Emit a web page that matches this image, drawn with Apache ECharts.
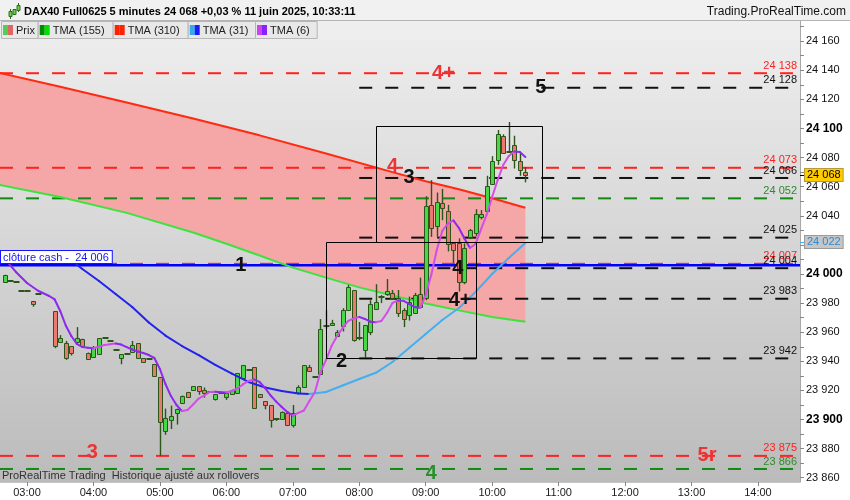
<!DOCTYPE html>
<html><head><meta charset="utf-8">
<script src="https://cdn.jsdelivr.net/npm/echarts@6.0.0/dist/echarts.min.js"></script>
<style>html,body{margin:0;padding:0;background:#fff}#c{width:850px;height:500px}</style>
</head><body><div id="c"></div><script>
// ---------- DATA ----------
const candleTimes = ['02:40','02:45','02:50','02:55','03:00','03:05','03:10','03:25','03:30','03:35','03:40','03:45','03:50','03:55','04:00','04:05','04:10','04:15','04:20','04:25','04:30','04:35','04:40','04:45','04:50','04:55','05:00','05:05','05:10','05:15','05:20','05:25','05:30','05:35','05:40','05:45','05:50','05:55','06:00','06:05','06:10','06:15','06:20','06:25','06:30','06:35','06:40','06:45','06:50','06:55','07:00','07:05','07:10','07:15','07:20','07:25','07:30','07:35','07:40','07:45','07:50','07:55','08:00','08:05','08:10','08:15','08:20','08:25','08:30','08:35','08:40','08:45','08:50','08:55','09:00','09:05','09:10','09:15','09:20','09:25','09:30','09:35','09:40','09:45','09:50','09:55','10:00','10:05','10:10','10:15','10:20','10:25','10:30'];
const candleOpen = [23994.5,23995.5,23994.5,23988.5,23988,23981.5,23986.5,23974.5,23953.5,23952.5,23950.5,23953,23955.5,23946,23943,23945,23956,23954,23947.5,23942,23945,23946.5,23952.5,23942,23941.5,23938,23929,23892,23899.5,23904.5,23911.5,23919,23920,23923,23920.5,23919,23914,23918.5,23915.5,23917.5,23918,23928.5,23934,23936,23917.5,23912.5,23910,23900.5,23900.5,23904.5,23896.5,23918,23922.5,23936,23929,23931,23964.5,23965,23957.5,23964,23975.5,23989,23956,23948,23960,23976.5,23984.5,23986,23987,23983.5,23975.5,23972,23973,23986.5,23983.5,24047.5,24033,24048.5,24043.5,24021,24021,23994.5,24025,24028,24039,24043,24062,24078,24095,24084,24088.5,24077.5,24070];
const candleClose = [23999.5,23995.5,23994.5,23988.5,23988,23979.5,23986.5,23950.5,23956,23942.5,23945.5,23956,23950.5,23942,23949,23956,23956,23954,23947.5,23945,23945,23951,23942,23939.5,23941.5,23929.5,23898,23901,23902.5,23907.5,23916,23915.5,23923,23919.5,23918.5,23919,23917.5,23918.5,23918.5,23920.5,23932,23937.5,23934,23907.5,23915.5,23910,23900,23900.5,23905.5,23896.5,23904.5,23922,23937.5,23933.5,23929,23962,23964.5,23966.5,23960,23975,23991,23954.5,23956,23965,23979.5,23981,23984.5,23988,23983.5,23973,23969,23981,23985.5,23977.5,24046.5,24031.5,24049.5,24045,24021,24016.5,23994.5,24018,24030,24041,24041,24060.5,24078,24096,24083.5,24084,24078,24071,24068];
const candleHigh = [23999.5,23995.5,23994.5,23988.5,23988,23981.5,23986.5,23974.5,23958,23954,23950.5,23963.5,23955.5,23946,23950.5,23956,23956,23954,23947.5,23945,23945,23954,23952.5,23942,23941.5,23938,23929,23907.5,23909.5,23907.5,23916.5,23919,23923,23923,23922,23919,23917.5,23918.5,23918.5,23920.5,23932,23937.5,23934,23936,23917.5,23912.5,23910,23900.5,23905.5,23904.5,23910,23923.5,23937.5,23937.5,23929,23969,23975,23968.5,23961.5,23976.5,23992.5,23989,23967,23965,23982,23993,23985.5,23996.5,23989,23989,23976.5,23984.5,23987,23997.5,24053.5,24064.5,24056,24058.5,24047.5,24021.5,24024.5,24021,24031,24044.5,24044,24067.5,24081,24099,24096,24104.5,24095,24083.5,24073.5];
const candleLow = [23994.5,23995.5,23994.5,23988.5,23988,23977.5,23986.5,23949,23953.5,23941,23944,23953,23950.5,23941,23943,23945,23956,23954,23947.5,23938,23945,23946.5,23942,23939.5,23941.5,23929.5,23875,23889.5,23893.5,23896.5,23911.5,23915.5,23920,23917,23915,23919,23913,23918.5,23913.5,23917.5,23918,23928.5,23934,23907.5,23915.5,23907,23894.5,23899,23900.5,23895.5,23894.5,23918,23922.5,23933.5,23929,23931,23962.5,23965,23957.5,23960.5,23975.5,23953.5,23954.5,23942,23958,23976,23980,23985,23983,23970.5,23963.5,23968,23972.5,23976.5,23982,24025.5,24025.5,24037,24015.5,24007.5,23988,23993,24024,24026,24037.5,24043,24062,24075,24083.5,24083.5,24072.5,24067.5,24063];

const tma310Times = ['02:35','03:30','04:30','05:30','06:30','07:30','08:30','09:00','09:30','10:00','10:30'];
const tma310Values = [24138.3,24128.7,24117.9,24106.9,24095.3,24082.8,24070.0,24063.7,24058.2,24052.1,24045.5];
const tma155Times = ['02:35','03:30','04:30','05:30','06:00','06:30','07:00','07:30','08:00','08:30','09:00','09:30','10:00','10:30'];
const tma155Values = [24061.2,24052.9,24042.0,24028.5,24020.8,24012.7,24004.4,23997.5,23990.8,23985.2,23979.7,23975.0,23970.4,23967.2];
const tma31Times = ['03:35','03:50','04:05','04:20','04:35','04:50','05:05','05:20','05:35','05:50','06:05','06:20','06:35','06:50','07:05','07:15','07:30','07:45','08:00','08:15','08:30','08:45','09:00','09:15','09:30','09:45','10:00','10:15','10:30'];
const tma31Values = [24012.4,24003.4,23995.2,23986.3,23977.3,23966.7,23957.7,23950.5,23944.3,23937.5,23931.6,23925.8,23922.0,23919.6,23917.9,23917.5,23918.9,23923.4,23927.8,23932.1,23939.5,23949.1,23958.8,23968.4,23976.6,23987.6,24000.0,24011.0,24021.3];
const tma6Times = ['02:40','02:50','03:00','03:10','03:20','03:25','03:30','03:35','03:40','03:45','03:50','03:55','04:00','04:05','04:10','04:15','04:20','04:25','04:30','04:35','04:40','04:45','04:50','04:55','05:00','05:05','05:10','05:15','05:20','05:25','05:30','05:35','05:40','05:45','05:50','05:55','06:00','06:05','06:10','06:15','06:20','06:25','06:30','06:35','06:40','06:45','06:50','06:55','07:00','07:05','07:10','07:15','07:20','07:25','07:30','07:35','07:40','07:45','07:50','07:55','08:00','08:05','08:10','08:15','08:20','08:25','08:30','08:35','08:40','08:45','08:50','08:55','09:00','09:05','09:10','09:15','09:20','09:25','09:30','09:35','09:40','09:45','09:50','09:55','10:00','10:05','10:10','10:15','10:20','10:25','10:30'];
const tma6Values = [24010.3,24001.4,23993.8,23988.5,23984.9,23982.5,23974.6,23964.6,23957.4,23951.9,23949.8,23949.3,23949.0,23950.2,23951.2,23951.7,23952.2,23951.5,23949.8,23948.1,23946.7,23945.7,23944.3,23942.3,23934.7,23924.4,23916.1,23910.0,23905.8,23906.5,23910.3,23914.4,23916.5,23918.9,23919.0,23918.7,23918.6,23919.6,23921.3,23924.1,23926.5,23927.6,23925.8,23921.6,23916.5,23912.3,23908.6,23905.2,23902.7,23904.5,23906.2,23912.7,23918.9,23932.6,23940.9,23950.5,23957.4,23962.9,23967.7,23969.4,23970.5,23969.1,23967.2,23966.9,23967.7,23973.2,23980.1,23981.8,23981.6,23979.4,23977.3,23976.6,23985.6,23999.3,24016.5,24029.6,24034.7,24036.8,24031.6,24024.4,24017.9,24020.6,24030.9,24040.6,24052.9,24064.6,24074.9,24081.1,24084.2,24083.9,24080.4];

const redLevels = [24138, 24073, 24007, 23875];
const greenLevels = [24052, 23866];
const blackLevels = [24128, 24066, 24025, 24004, 23983, 23942];
const cashLevel = 24006;
const levelStartFull = '02:35';
const levelStartBlack = '08:00';
const levelEnd = '14:32';

const boxStart = ['08:15','07:30'];
const boxEnd = ['10:45','09:45'];
const boxLow = [24022, 23942];
const boxHigh = [24102, 24022];

const markTexts = ['4+','5','4','3','1','4','4+','2','3','5r','4'];
const markTimes = ['09:16','10:44','08:30','08:45','06:13','09:29','09:31','07:44','03:59','13:14','09:05'];
const markValues = [24138,24128,24074,24066,24006,24004,23982,23940,23877,23875,23863];
const markKinds = ['r','k','r','k','k','k','k','k','r','r','g'];

const yTickValues = [];  for (let v = 23860; v <= 24170; v += 10) yTickValues.push(v);
const yLabelValues = []; for (let v = 23860; v <= 24160; v += 20) yLabelValues.push(v);
const xLabelHours = [3,4,5,6,7,8,9,10,11,12,13,14];
const lastPrice = 24068;
const tma31Last = 24022;

// ---------- HELPERS ----------
const tm = s => { const p = s.split(':'); return (+p[0]) * 60 + (+p[1]); };
const fmt = v => { const s = String(Math.round(v)); return s.slice(0, s.length - 3) + ' ' + s.slice(-3); };
const X_MIN = 155.62, X_MAX = 877.97, Y_MIN = 23857.05, Y_MAX = 24174.57;
const FONT = '"Liberation Sans", Arial, sans-serif';
const KIND_COLOR = { r: '#ec3434', k: '#111111', g: '#2b8f2b' };

const chart = echarts.init(document.getElementById('c'), null, { renderer: 'canvas' });

function levelSeries(values, color, start) {
  return values.map(v => ({
    type: 'line', silent: true, z: 2, symbol: 'none', animation: false,
    data: [[tm(start) < X_MIN ? X_MIN : tm(start), v], [tm(levelEnd), v]],
    lineStyle: { color: color, width: 2, type: [13, 13] }
  }));
}

function segData(times, values) {
  const d = [];
  for (let i = 0; i < times.length - 1; i++) d.push([tm(times[i]), values[i], tm(times[i + 1]), values[i + 1]]);
  return d;
}
function segSeries(times, values, rise, fall) {
  return {
    type: 'custom', z: 6, silent: true, animation: false,
    encode: { x: [0, 2], y: [1, 3] },
    data: segData(times, values),
    renderItem: (params, api) => {
      const a = api.coord([api.value(0), api.value(1)]);
      const b = api.coord([api.value(2), api.value(3)]);
      const up = api.value(3) >= api.value(1);
      return { type: 'line', shape: { x1: a[0], y1: a[1], x2: b[0], y2: b[1] },
        style: { stroke: up ? rise : fall, lineWidth: 2, lineCap: 'round' } };
    }
  };
}

const series = [];

// band between TMA310 and TMA155
series.push({
  type: 'custom', z: 1, silent: true, animation: false,
  data: [[tm(tma310Times[0]), tma310Values[0]]],
  renderItem: (params, api) => {
    const pts = [];
    tma310Times.forEach((t, i) => pts.push(api.coord([tm(t), tma310Values[i]])));
    for (let i = tma155Times.length - 1; i >= 0; i--) pts.push(api.coord([tm(tma155Times[i]), tma155Values[i]]));
    return { type: 'polygon', shape: { points: pts }, style: { fill: '#f5a6a6' } };
  }
});

series.push(...levelSeries(redLevels, '#ff2222', levelStartFull));
series.push(...levelSeries(greenLevels, '#148a14', levelStartFull));
series.push(...levelSeries(blackLevels, '#111111', levelStartBlack));

// cash line
series.push({ type: 'line', silent: true, z: 3, symbol: 'none', animation: false,
  data: [[X_MIN, cashLevel], [X_MAX, cashLevel]], lineStyle: { color: '#0000ff', width: 2.5 } });

// TMA 310 / 155
series.push({ type: 'line', silent: true, z: 3, symbol: 'none', animation: false,
  data: tma310Times.map((t, i) => [tm(t), tma310Values[i]]), lineStyle: { color: '#ff2a10', width: 2 } });
series.push({ type: 'line', silent: true, z: 3, symbol: 'none', animation: false,
  data: tma155Times.map((t, i) => [tm(t), tma155Values[i]]), lineStyle: { color: '#3ee23e', width: 2 } });

// candles
series.push({
  type: 'custom', z: 5, silent: true, animation: false,
  encode: { x: 0, y: [1, 2, 3, 4] },
  data: candleTimes.map((t, i) => [tm(t), candleOpen[i], candleClose[i], candleLow[i], candleHigh[i]]),
  renderItem: (params, api) => {
    const t = api.value(0), o = api.value(1), c = api.value(2), l = api.value(3), h = api.value(4);
    const pO = api.coord([t, o]), pC = api.coord([t, c]), pL = api.coord([t, l]), pH = api.coord([t, h]);
    const x = Math.round(pO[0]);
    const dark = '#2c5519';
    const children = [];
    if (Math.abs(pH[1] - pL[1]) > 0.5) {
      children.push({ type: 'line', shape: { x1: x + 0.5, y1: pH[1], x2: x + 0.5, y2: pL[1] },
        style: { stroke: dark, lineWidth: 1.4 } });
    }
    if (o === c) {
      children.push({ type: 'rect', shape: { x: x - 2.5, y: Math.round(pO[1]) - 1, width: 6, height: 2 },
        style: { fill: dark } });
    } else {
      const top = Math.round(Math.min(pO[1], pC[1]));
      const hgt = Math.max(Math.round(Math.abs(pO[1] - pC[1])), 1);
      children.push({ type: 'rect', shape: { x: x - 1.5, y: top + 0.5, width: 4, height: hgt },
        style: { fill: c > o ? '#46d846' : '#ea7a70', stroke: dark, lineWidth: 1 } });
    }
    return { type: 'group', children };
  }
});

// TMA 31 and TMA 6 (colour by slope)
series.push(segSeries(tma31Times, tma31Values, '#46aeee', '#2222ee'));
series.push(segSeries(tma6Times, tma6Values, '#d24ee8', '#8d28ee'));

// boxes
series.push({
  type: 'custom', z: 7, silent: true, animation: false,
  data: boxStart.map((s, i) => [tm(s), boxLow[i], tm(boxEnd[i]), boxHigh[i]]),
  encode: { x: [0, 2], y: [1, 3] },
  renderItem: (params, api) => {
    const a = api.coord([api.value(0), api.value(3)]);
    const b = api.coord([api.value(2), api.value(1)]);
    const x1 = Math.round(a[0]) + 0.5, y1 = Math.round(a[1]) + 0.5;
    const x2 = Math.round(b[0]) + 0.5, y2 = Math.round(b[1]) + 0.5;
    return { type: 'rect', shape: { x: x1, y: y1, width: x2 - x1, height: y2 - y1 },
      style: { fill: null, stroke: '#000', lineWidth: 1 } };
  }
});

// big wave labels
series.push({
  type: 'custom', z: 9, silent: true, animation: false,
  data: markTimes.map((t, i) => [tm(t), markValues[i], i]),
  renderItem: (params, api) => {
    const p = api.coord([api.value(0), api.value(1)]);
    const i = api.value(2);
    return { type: 'text', x: p[0], y: p[1],
      style: { text: markTexts[i], fill: KIND_COLOR[markKinds[i]], font: 'bold 20px ' + FONT,
        align: 'center', verticalAlign: 'middle' } };
  }
});

// right level labels
const lvlAll = [].concat(redLevels.map(v => [v, 'r']), greenLevels.map(v => [v, 'g']), blackLevels.map(v => [v, 'k']));
const LVL_COLOR = { r: '#ff2020', g: '#2c8c2c', k: '#111111' };
series.push({
  type: 'custom', z: 9, silent: true, animation: false,
  data: lvlAll.map((d, i) => [X_MAX, d[0], i]),
  renderItem: (params, api) => {
    const p = api.coord([api.value(0), api.value(1)]);
    const d = lvlAll[api.value(2)];
    return { type: 'text', x: p[0] - 3, y: p[1] - 2,
      style: { text: fmt(d[0]), fill: LVL_COLOR[d[1]], font: '11px ' + FONT, align: 'right', verticalAlign: 'bottom' } };
  }
});

// cash box + price tags
series.push({
  type: 'custom', z: 10, silent: true, animation: false,
  data: [[X_MIN, cashLevel, 0], [X_MAX, lastPrice, 1], [X_MAX, tma31Last, 2]],
  renderItem: (params, api) => {
    const k = api.value(2);
    const p = api.coord([api.value(0), api.value(1)]);
    if (k === 0) {
      return { type: 'text', x: 1, y: Math.round(p[1]) - 2,
        style: { text: 'clôture cash -  ' + fmt(cashLevel), fill: '#1515ff', font: '11px ' + FONT,
          align: 'left', verticalAlign: 'bottom', backgroundColor: '#ffffff', borderColor: '#1515ff',
          borderWidth: 1, padding: [1, 3, 0, 2] } };
    }
    const tag = k === 1
      ? { bg: '#ffcc00', bd: '#b89a30', fg: '#000000', tick: '#000000', txt: fmt(lastPrice) }
      : { bg: '#c6c6c6', bd: '#9a9a9a', fg: '#2a8ad4', tick: '#46aeee', txt: fmt(tma31Last) };
    const y = Math.round(p[1]);
    return { type: 'group', children: [
      { type: 'line', shape: { x1: p[0], y1: y + 0.5, x2: p[0] + 5, y2: y + 0.5 }, style: { stroke: tag.tick, lineWidth: 1 } },
      { type: 'text', x: p[0] + 5, y: y,
        style: { text: tag.txt, fill: tag.fg, font: '11px ' + FONT, align: 'left', verticalAlign: 'middle',
          backgroundColor: tag.bg, borderColor: tag.bd, borderWidth: 1, padding: [1, 2, 0, 2] } }
    ] };
  }
});

// ---------- GRAPHIC (header / legend) ----------
const legendItems = [
  { x: 1, w: 36.7, text: 'Prix', c: ['#55cc55', '#e06666'] },
  { x: 37.7, w: 75, text: 'TMA (155)', c: ['#008c00', '#00e000'] },
  { x: 112.7, w: 75, text: 'TMA (310)', c: ['#ff2200', '#ff2200'] },
  { x: 187.7, w: 67.3, text: 'TMA (31)', c: ['#33aaee', '#1a1aff'] },
  { x: 255, w: 61.7, text: 'TMA (6)', c: ['#cc44ee', '#8a22ff'] }
];
const graphic = [
  { type: 'rect', shape: { x: 0, y: 0, width: 850, height: 20 }, style: { fill: '#f1f1f1' }, z: 100 },
  { type: 'line', shape: { x1: 0, y1: 20.5, x2: 850, y2: 20.5 }, style: { stroke: '#b4b4b4', lineWidth: 1 }, z: 100 },
  { type: 'line', shape: { x1: 10.5, y1: 9, x2: 10.5, y2: 19 }, style: { stroke: '#2f6b1f', lineWidth: 1 }, z: 101 },
  { type: 'rect', shape: { x: 9, y: 11.5, width: 3, height: 5 }, style: { fill: '#6fd04a', stroke: '#2f6b1f', lineWidth: 1 }, z: 101 },
  { type: 'rect', shape: { x: 13, y: 9.5, width: 3, height: 5 }, style: { fill: '#6fd04a', stroke: '#2f6b1f', lineWidth: 1 }, z: 101 },
  { type: 'line', shape: { x1: 18.5, y1: 3, x2: 18.5, y2: 12 }, style: { stroke: '#2f6b1f', lineWidth: 1 }, z: 101 },
  { type: 'rect', shape: { x: 17, y: 5.5, width: 3, height: 5 }, style: { fill: '#6fd04a', stroke: '#2f6b1f', lineWidth: 1 }, z: 101 },
  { type: 'text', x: 24, y: 12, z: 101, style: { text: 'DAX40 Full0625 5 minutes 24 068 +0,03 % 11 juin 2025, 10:33:11',
    font: 'bold 11px ' + FONT, fill: '#000', verticalAlign: 'middle' } },
  { type: 'text', x: 846, y: 12, z: 101, style: { text: 'Trading.ProRealTime.com', font: '12px ' + FONT, fill: '#111',
    align: 'right', verticalAlign: 'middle' } },
  { type: 'text', x: 2, y: 476, z: 101, style: { text: 'ProRealTime Trading  Historique ajusté aux rollovers',
    font: '11px ' + FONT, fill: '#333', verticalAlign: 'middle' } }
];
legendItems.forEach(it => {
  graphic.push({ type: 'rect', z: 100, shape: { x: it.x + 0.5, y: 21.5, width: it.w, height: 17 },
    style: { fill: '#e8e8e8', stroke: '#b6b6b6', lineWidth: 1 } });
  graphic.push({ type: 'rect', z: 101, shape: { x: it.x + 2, y: 25, width: 5, height: 10 }, style: { fill: it.c[0] } });
  graphic.push({ type: 'rect', z: 101, shape: { x: it.x + 7, y: 25, width: 5, height: 10 }, style: { fill: it.c[1] } });
  graphic.push({ type: 'text', z: 101, x: it.x + 15, y: 30.5,
    style: { text: it.text, font: '11px ' + FONT, fill: '#222', verticalAlign: 'middle' } });
});

const option = {
  animation: false,
  backgroundColor: '#ffffff',
  grid: { left: 0, right: 50, top: 20, bottom: 18, show: true, borderWidth: 0,
    backgroundColor: { type: 'linear', x: 0, y: 0, x2: 0, y2: 1,
      colorStops: [{ offset: 0, color: '#efefef' }, { offset: 1, color: '#bbbbbb' }] } },
  xAxis: {
    type: 'value', min: X_MIN, max: X_MAX, splitLine: { show: false },
    axisLine: { show: true, lineStyle: { color: '#c4c4c4', width: 1 } },
    axisTick: { show: true, length: 4, lineStyle: { color: '#888' }, customValues: xLabelHours.map(h => h * 60) },
    axisLabel: { show: true, customValues: xLabelHours.map(h => h * 60), margin: 5, color: '#1a1a1a', fontSize: 11,
      fontFamily: FONT, formatter: v => String(Math.floor(v / 60)).padStart(2, '0') + ':00' }
  },
  yAxis: {
    type: 'value', position: 'right', min: Y_MIN, max: Y_MAX, splitLine: { show: false },
    axisLine: { show: true, lineStyle: { color: '#a8a8a8', width: 1 } },
    axisTick: { show: true, length: 4, lineStyle: { color: '#888' }, customValues: yTickValues },
    axisLabel: { show: true, customValues: yLabelValues, margin: 6, color: '#111', fontSize: 11, fontFamily: FONT,
      formatter: v => (Math.round(v) % 100 === 0 ? '{b|' + fmt(v) + '}' : fmt(v)),
      rich: { b: { fontWeight: 'bold', fontSize: 12, fontFamily: FONT, color: '#000' } } }
  },
  graphic: graphic,
  series: series
};
chart.setOption(option);
</script></body></html>
